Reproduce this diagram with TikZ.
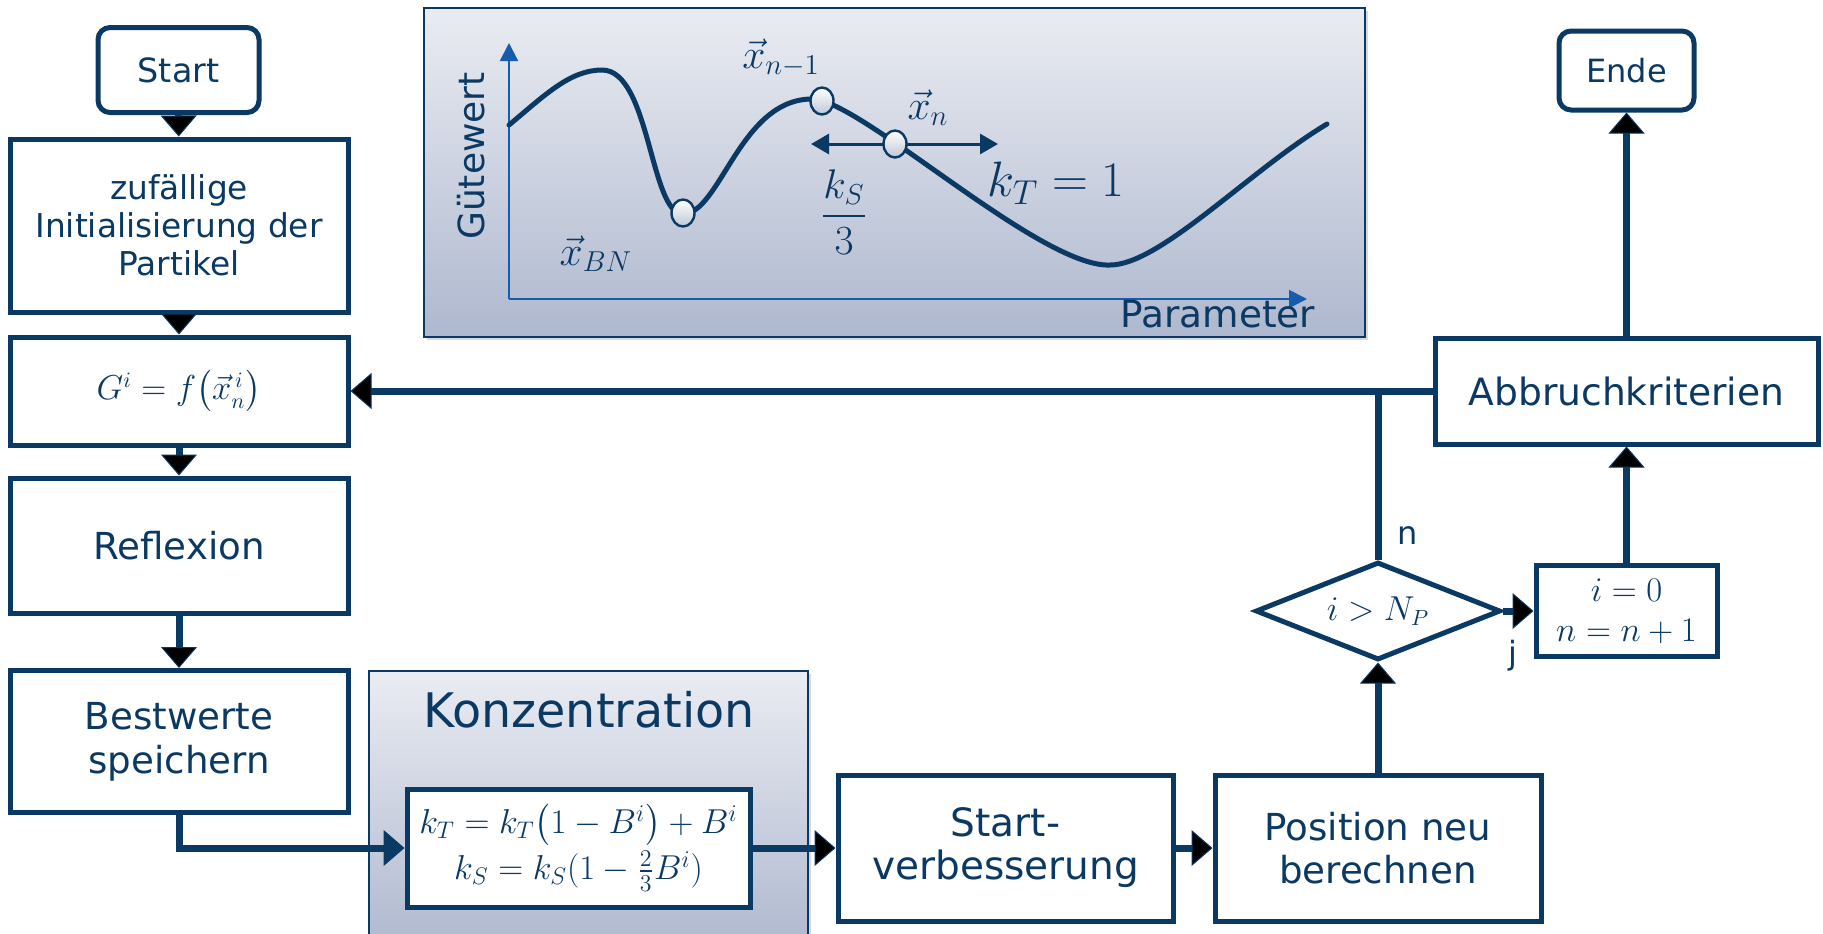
\documentclass[tikz,border=0pt]{standalone}
\usepackage{amsmath}
\usepackage{fontspec}
\setmainfont{DejaVu Sans}
\usetikzlibrary{arrows.meta,shapes.geometric,shadows}

\definecolor{flowblue}{RGB}{10,57,100}
\definecolor{axisblue}{RGB}{22,92,172}
\definecolor{paneltop}{RGB}{234,236,242}
\definecolor{panelbot}{RGB}{174,184,206}

\newcommand{\fs}[1]{\fontsize{#1}{1.2\dimexpr#1pt\relax}\selectfont}

\begin{document}
\begin{tikzpicture}[x=0.5pt,y=-0.5pt,
  box/.style={draw=flowblue, line width=2.5pt, fill=white, text=flowblue, align=center, inner sep=0pt},
  term/.style={box, rounded corners=6pt},
  flow/.style={draw=flowblue, line width=3.5pt, -{Triangle[width=18pt,length=10.5pt,line width=0.5pt]}},
  link/.style={draw=flowblue, line width=3.5pt},
  lbl/.style={text=flowblue, inner sep=0pt, font=\fs{16}},
  panel/.style={draw=flowblue, line width=0.8pt, top color=paneltop, bottom color=panelbot,
    drop shadow={opacity=0.3, shadow xshift=1.5pt, shadow yshift=-1.5pt}},
  axis/.style={draw=axisblue, line width=1pt, -{Triangle[width=9pt,length=9pt]}},
  dot/.style={ellipse, draw=flowblue, line width=1.2pt, top color=white, bottom color=paneltop!80!flowblue,
    minimum width=11.5pt, minimum height=13.5pt, inner sep=0pt},
  curvetxt/.style={text=flowblue, inner sep=0pt}
]
\useasboundingbox (0,0) rectangle (1823,933);

% chart panel
\draw[panel] (424,8) rectangle (1365,337);
\draw[axis] (509,299) -- (509,43);
\draw[axis] (509,299) -- (1307,299);
\draw[flowblue, line width=2.5pt, line cap=round]
  (509,125) .. controls (545,95) and (570,70) .. (602,70)
  .. controls (650,70) and (650,214) .. (683,214)
  .. controls (720,214) and (740,99) .. (812,99)
  .. controls (860,99) and (1040,268) .. (1110,265)
  .. controls (1160,265) and (1250,170) .. (1327,124);
\coordinate (kleft) at (811,144);
\coordinate (kright) at (998,144);
\draw[draw=flowblue, line width=1.5pt, {Triangle[width=10pt,length=9pt]}-{Triangle[width=10pt,length=9pt]}] (kleft) -- (kright);
\node[dot] (pbn) at (683,213) {};
\node[dot] (pold) at (822,101) {};
\node[dot] (pnew) at (895,144) {};
\node[curvetxt, font=\fs{22}] (lold) at (781,58) {$\vec{x}_{n-1}$};
\node[curvetxt, font=\fs{22}] (lnew) at (928,108) {$\vec{x}_{n}$};
\node[curvetxt, font=\fs{21}] (lks) at (844,212) {$\dfrac{k_S}{3}$};
\node[curvetxt, font=\fs{23}] (lkt) at (1056,183) {$k_T = 1$};
\node[curvetxt, font=\fs{21}] (lbn) at (596,254) {$\vec{x}_{BN}$};
\node[curvetxt, font=\fs{18}, rotate=90] (ylab) at (471,156) {Gütewert};
\node[curvetxt, font=\fs{18.7}] (xlab) at (1218,314) {Parameter};

% Konzentration panel
\draw[panel] (369,671) rectangle (808,950);
\node[curvetxt, font=\fs{23.8}] (konz) at (589,710) {Konzentration};

% flow chart
\node[term, minimum width=80.5pt, minimum height=42.5pt, font=\fs{16.7}] (start) at (178.5,70) {Start};
\node[box, minimum width=169pt, minimum height=86.5pt, font=\fontsize{16.4}{19}\selectfont] (init) at (179,225.5) {zufällige\\Initialisierung der\\Partikel};
\node[box, minimum width=169pt, minimum height=54pt, font=\fs{16}] (guete) at (179,391) {$G^i = f\bigl(\vec{x}_n^{\,i}\bigr)$};
\node[box, minimum width=169pt, minimum height=67.5pt, font=\fs{18.6}] (refl) at (179,545.5) {Reflexion};
\node[box, minimum width=169pt, minimum height=71pt, font=\fontsize{18.6}{22}\selectfont] (best) at (179,741.5) {Bestwerte\\speichern};
\node[box, minimum width=171.5pt, minimum height=59pt, font=\fontsize{16.5}{23}\selectfont] (konzf) at (578.5,848) {$k_T = k_T\bigl(1-B^i\bigr)+B^i$\\$k_S = k_S(1-\tfrac{2}{3}B^i)$};
\node[box, minimum width=167.5pt, minimum height=73pt, font=\fontsize{19.5}{21.5}\selectfont] (startv) at (1005.5,848) {Start-\\verbesserung};
\node[box, minimum width=163pt, minimum height=73pt, font=\fontsize{18.6}{21.5}\selectfont] (pos) at (1378,848) {Position neu\\berechnen};
\node[box, diamond, aspect=2.5, minimum width=122.5pt, minimum height=49pt, font=\fs{16}] (cond) at (1378,611) {$i > N_P$};
\node[box, minimum width=90.5pt, minimum height=45.5pt, font=\fontsize{17}{20}\selectfont] (reset) at (1626.5,611) {$i=0$\\$n=n+1$};
\node[box, minimum width=191.5pt, minimum height=53pt, font=\fs{18.8}] (abbr) at (1626.5,391) {Abbruchkriterien};
\node[term, minimum width=67.5pt, minimum height=39.5pt, font=\fs{16}] (ende) at (1626.5,70.5) {Ende};

\path[flow]
  (start) edge (init)
  (init) edge (guete)
  (guete) edge (refl)
  (refl) edge (best)
  (konzf) edge (startv)
  (startv) edge (pos)
  (pos) edge (cond)
  (cond) edge node[lbl, at start, anchor=north, yshift=-13pt, xshift=5pt] {j} (reset)
  (reset) edge (abbr)
  (abbr) edge (ende)
  (abbr) edge (guete);
\draw[flow] (best.south) |- (konzf.west);
\draw[link] (cond.north) -- node[lbl, pos=0.14, right=8pt] {n} (cond.north |- abbr.west);
\end{tikzpicture}
\end{document}
